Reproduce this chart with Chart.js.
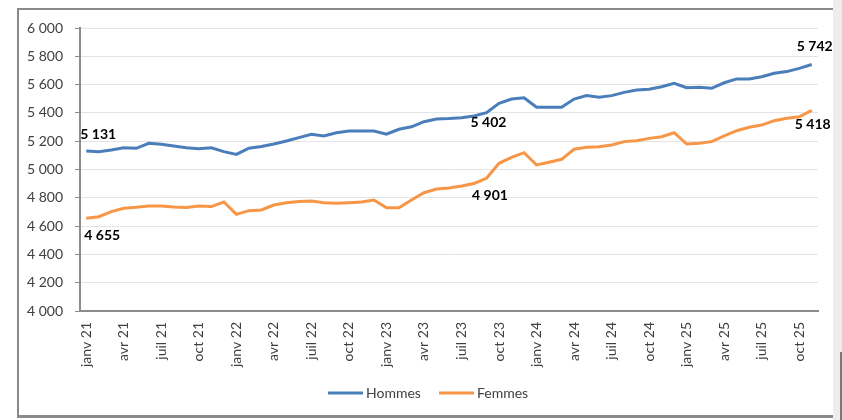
<!DOCTYPE html>
<html>
<head>
<meta charset="utf-8">
<script src="https://cdn.jsdelivr.net/npm/chart.js@4"></script>
<style>
html,body{margin:0;padding:0;background:#fff;}
#wrap{position:relative;width:842px;height:420px;overflow:hidden;background:#fff;}
#frame{position:absolute;left:17px;top:8px;width:816px;height:410px;box-sizing:border-box;border-top:2px solid #8a8a8a;border-left:2px solid #8a8a8a;border-bottom:3px solid #8a8a8a;}
#strip{position:absolute;left:833px;top:0;width:9px;height:420px;background:#ededed;}
#strip2{position:absolute;left:840px;top:352px;width:2px;height:68px;background:#7a7a7a;}
canvas{position:absolute;left:0;top:0;}
</style>
</head>
<body>
<div id="wrap">
  <div id="frame"></div>
  <div id="strip"></div>
  <div id="strip2"></div>
  <canvas id="c" width="842" height="420"></canvas>
</div>
<script>
const months = [
  "janv 21","févr 21","mars 21","avr 21","mai 21","juin 21","juil 21","août 21","sept 21","oct 21","nov 21","déc 21",
  "janv 22","févr 22","mars 22","avr 22","mai 22","juin 22","juil 22","août 22","sept 22","oct 22","nov 22","déc 22",
  "janv 23","févr 23","mars 23","avr 23","mai 23","juin 23","juil 23","août 23","sept 23","oct 23","nov 23","déc 23",
  "janv 24","févr 24","mars 24","avr 24","mai 24","juin 24","juil 24","août 24","sept 24","oct 24","nov 24","déc 24",
  "janv 25","févr 25","mars 25","avr 25","mai 25","juin 25","juil 25","août 25","sept 25","oct 25","nov 25"
];
const hommes = [
  5131,5126,5138,5154,5150,5185,5178,5166,5154,5147,5154,5126,
  5107,5150,5162,5180,5201,5225,5249,5237,5260,5272,5272,5272,
  5249,5284,5302,5338,5357,5360,5366,5378,5402,5468,5498,5507,
  5440,5440,5440,5498,5522,5510,5522,5545,5562,5567,5585,5609,
  5578,5581,5574,5613,5640,5640,5656,5680,5692,5715,5742
];
const femmes = [
  4655,4666,4702,4726,4733,4742,4742,4735,4731,4742,4738,4770,
  4683,4709,4714,4749,4765,4773,4777,4765,4761,4765,4770,4784,
  4730,4730,4784,4836,4862,4870,4883,4901,4938,5044,5086,5119,
  5032,5051,5072,5143,5157,5161,5173,5197,5203,5220,5232,5260,
  5180,5185,5197,5237,5274,5298,5314,5345,5362,5373,5418
];
const yMin = 4000, yMax = 6000, yStep = 200;

function fmt(v){ return String(v).replace(/\B(?=(\d{3})+(?!\d))/g, ' '); }

const valueLabelPlugin = {
  id: 'valueLabels',
  afterDatasetsDraw(chart, args, opts) {
    const ctx = chart.ctx;
    ctx.save();
    ctx.font = 'bold 14px Lato';
    ctx.fillStyle = '#000';
    ctx.textAlign = 'center';
    ctx.textBaseline = 'middle';
    (opts.items || []).forEach(it => {
      const meta = chart.getDatasetMeta(it.ds);
      const pt = meta.data[it.i];
      const v = chart.data.datasets[it.ds].data[it.i];
      ctx.fillText(fmt(v), pt.x + it.dx, pt.y + it.dy);
    });
    ctx.restore();
  }
};

const customLegend = {
  id: 'customLegend',
  afterDraw(chart, args, opts) {
    const ctx = chart.ctx;
    ctx.save();
    ctx.font = '14px Lato';
    ctx.textAlign = 'left';
    ctx.textBaseline = 'middle';
    chart.data.datasets.forEach((ds, k) => {
      const p = opts.items[k];
      ctx.strokeStyle = ds.borderColor;
      ctx.lineWidth = ds.borderWidth;
      ctx.beginPath();
      ctx.moveTo(p.x, opts.y);
      ctx.lineTo(p.x + opts.lineLen, opts.y);
      ctx.stroke();
      ctx.fillStyle = opts.color;
      ctx.fillText(ds.label, p.x + opts.lineLen + opts.gap, opts.y);
    });
    ctx.restore();
  }
};

function build(){
  Chart.defaults.font.family = 'Lato';
  Chart.defaults.font.size = 14;
  Chart.defaults.color = '#4d4d4d';
  new Chart(document.getElementById('c'), {
    type: 'line',
    data: {
      labels: months,
      datasets: [
        {label: 'Hommes', data: hommes, borderColor: '#4A7EBB', backgroundColor: '#4A7EBB', borderWidth: 3, pointRadius: 0, tension: 0},
        {label: 'Femmes', data: femmes, borderColor: '#F79646', backgroundColor: '#F79646', borderWidth: 3, pointRadius: 0, tension: 0}
      ]
    },
    options: {
      responsive: false,
      animation: false,
      layout: {padding: {left: 16, right: 24, top: 28, bottom: 50}},
      plugins: {
        legend: {display: false},
        tooltip: {enabled: false},
        customLegend: {y: 393, lineLen: 35, gap: 3, color: '#404040', items: [{x: 328}, {x: 439}]},
        valueLabels: {
          items: [
            {ds: 0, i: 0, dx: 12, dy: -16},
            {ds: 1, i: 0, dx: 16, dy: 17},
            {ds: 0, i: 32, dx: 2, dy: 10},
            {ds: 1, i: 31, dx: 16, dy: 12},
            {ds: 0, i: 58, dx: 3, dy: -18},
            {ds: 1, i: 58, dx: 1, dy: 14}
          ]
        }
      },
      scales: {
        x: {
          offset: true,
          grid: {display: false, drawTicks: false},
          border: {display: true, color: '#8c8c8c', width: 2},
          ticks: {
            autoSkip: false, maxRotation: 90, minRotation: 90, padding: 11, color: '#404040',
            callback: function(val, idx){ return idx % 3 === 0 ? this.getLabelForValue(val) : null; }
          },
          afterFit(scale){ scale.height = 59; }
        },
        y: {
          min: yMin, max: yMax,
          grid: {color: '#e4e4e4', lineWidth: 1, drawTicks: true, tickLength: 5, tickColor: '#8c8c8c'},
          border: {display: true, color: '#8c8c8c', width: 2},
          ticks: {stepSize: yStep, padding: 12, color: '#404040', callback: v => fmt(v)},
          afterFit(scale){ scale.width = 64; }
        }
      }
    },
    plugins: [valueLabelPlugin, customLegend]
  });
}
if (document.fonts && document.fonts.load) {
  Promise.all([document.fonts.load('14px Lato'), document.fonts.load('bold 14px Lato')]).then(build, build);
} else { build(); }
</script>
</body>
</html>
